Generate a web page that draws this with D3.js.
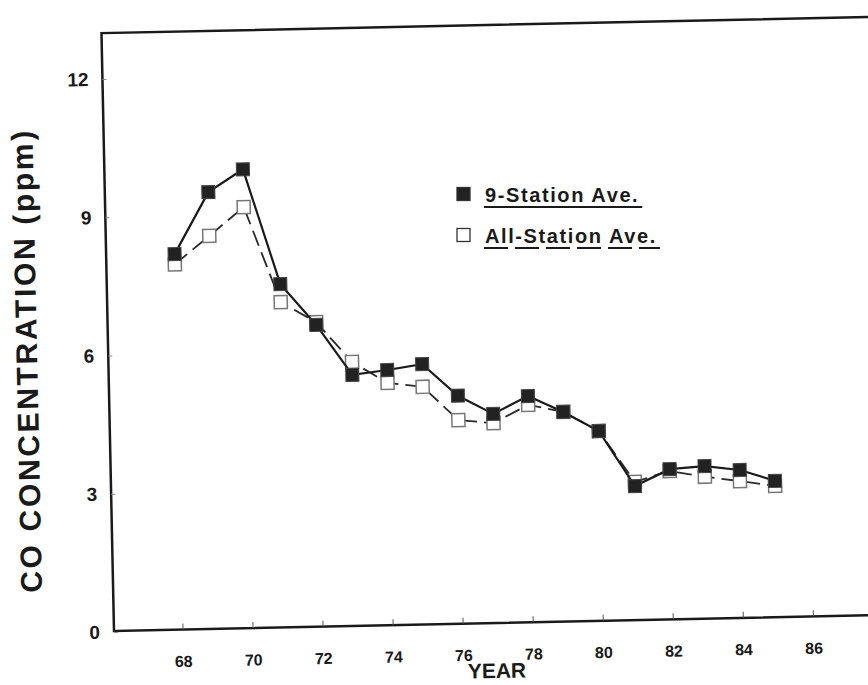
<!DOCTYPE html>
<html>
<head>
<meta charset="utf-8">
<script src="https://cdn.jsdelivr.net/npm/d3@7"></script>
<style>
  body { margin: 0; background: #fff; }
  text { font-family: "Liberation Sans", Arial, sans-serif; font-weight: bold; fill: #1a1a1a; }
</style>
</head>
<body>
<div id="chart"></div>
<script>
// values
const years = [68, 69, 70, 71, 72, 73, 74, 75, 76, 77, 78, 79, 80, 81, 82, 83, 84, 85];
const nineStation = [8.17, 9.50, 9.98, 7.47, 6.57, 5.47, 5.56, 5.67, 4.97, 4.56, 4.93, 4.57, 4.14, 2.93, 3.28, 3.33, 3.23, 2.98];
const allStation = [7.95, 8.55, 9.16, 7.08, 6.63, 5.75, 5.28, 5.18, 4.44, 4.36, 4.74, 4.57, 4.14, 3.02, 3.24, 3.10, 2.99, 2.87];
const xTicks = [68, 70, 72, 74, 76, 78, 80, 82, 84, 86];
const yTicks = [0, 3, 6, 9, 12];
const seriesNames = ["9-Station Ave.", "All-Station Ave."];

const W = 868, H = 685;
const svg = d3.select("#chart").append("svg")
    .attr("width", W).attr("height", H);

// the scan is a little tilted, so the whole plot sits in a rotated group
const g = svg.append("g").attr("transform", "rotate(-1.2, 114, 631)");

const x = d3.scaleLinear().domain([68, 86]).range([182.5, 813]);
const y = d3.scaleLinear().domain([0, 12]).range([632, 79]);

// frame
g.append("rect")
    .attr("x", 114).attr("y", 33)
    .attr("width", 830).attr("height", 598)
    .attr("fill", "none").attr("stroke", "#1a1a1a").attr("stroke-width", 2.5);

// x axis ticks + labels
g.append("g")
    .attr("transform", "translate(0,631)")
    .call(d3.axisBottom(x).tickValues(xTicks).tickSize(-6).tickPadding(26))
    .call(a => a.select(".domain").remove())
    .call(a => a.selectAll("line").attr("stroke", "#555").attr("stroke-width", 1))
    .call(a => a.selectAll("text").style("font-size", "16px").attr("fill", "#1a1a1a"));

// y axis ticks + labels
g.append("g")
    .attr("transform", "translate(114,0)")
    .call(d3.axisLeft(y).tickValues(yTicks).tickSize(-4).tickPadding(14))
    .call(a => a.select(".domain").remove())
    .call(a => a.selectAll("line").attr("stroke", "#888").attr("stroke-width", 1))
    .call(a => a.selectAll("text").style("font-size", "19px").attr("fill", "#1a1a1a"));

// axis titles
g.append("text")
    .attr("x", 496).attr("y", 686)
    .attr("text-anchor", "middle")
    .style("font-size", "21px")
    .text("YEAR");

g.append("text")
    .attr("transform", "translate(32,360) rotate(-90)")
    .attr("text-anchor", "middle")
    .attr("dy", "0.36em")
    .attr("textLength", 462).attr("lengthAdjust", "spacing")
    .style("font-size", "30px")
    .text("CO CONCENTRATION (ppm)");

const line = d3.line().x(d => x(d[0])).y(d => y(d[1]));
const allData = years.map((yr, i) => [yr, allStation[i]]);
const nineData = years.map((yr, i) => [yr, nineStation[i]]);
const sz = 13;

// all-station: dashed line, open squares
g.append("path")
    .datum(allData)
    .attr("d", line)
    .attr("fill", "none")
    .attr("stroke", "#2a2a2a")
    .attr("stroke-width", 1.8)
    .attr("stroke-dasharray", "16,7");

g.selectAll(".open")
    .data(allData)
    .join("rect")
    .attr("class", "open")
    .attr("x", d => x(d[0]) - sz / 2)
    .attr("y", d => y(d[1]) - sz / 2)
    .attr("width", sz).attr("height", sz)
    .attr("fill", "#fff")
    .attr("stroke", "#777")
    .attr("stroke-width", 1.5);

// 9-station: solid line, filled squares
g.append("path")
    .datum(nineData)
    .attr("d", line)
    .attr("fill", "none")
    .attr("stroke", "#1a1a1a")
    .attr("stroke-width", 2.2);

g.selectAll(".filled")
    .data(nineData)
    .join("rect")
    .attr("class", "filled")
    .attr("x", d => x(d[0]) - sz / 2)
    .attr("y", d => y(d[1]) - sz / 2)
    .attr("width", sz).attr("height", sz)
    .attr("fill", "#222")
    .attr("stroke", "#444")
    .attr("stroke-width", 1);

// legend
const legend = svg.append("g").attr("transform", "translate(457,0)");
const rows = [
    {name: seriesNames[0], cy: 194, fill: "#222", stroke: "#333", dash: null},
    {name: seriesNames[1], cy: 235, fill: "#fff", stroke: "#333", dash: "24,7"}
];
rows.forEach(r => {
    legend.append("rect")
        .attr("x", 0).attr("y", r.cy - 6.5)
        .attr("width", 13).attr("height", 13)
        .attr("fill", r.fill).attr("stroke", r.stroke).attr("stroke-width", 1.3);
    const t = legend.append("text")
        .attr("x", 28).attr("y", r.cy + 7.5)
        .style("font-size", "20px")
        .style("letter-spacing", "1.6px")
        .text(r.name);
    const w = t.node().getComputedTextLength();
    legend.append("line")
        .attr("x1", 27).attr("x2", 27 + w + 4)
        .attr("y1", r.cy + 13).attr("y2", r.cy + 13)
        .attr("stroke", "#1a1a1a").attr("stroke-width", 2)
        .attr("stroke-dasharray", r.dash);
});
</script>
</body>
</html>
